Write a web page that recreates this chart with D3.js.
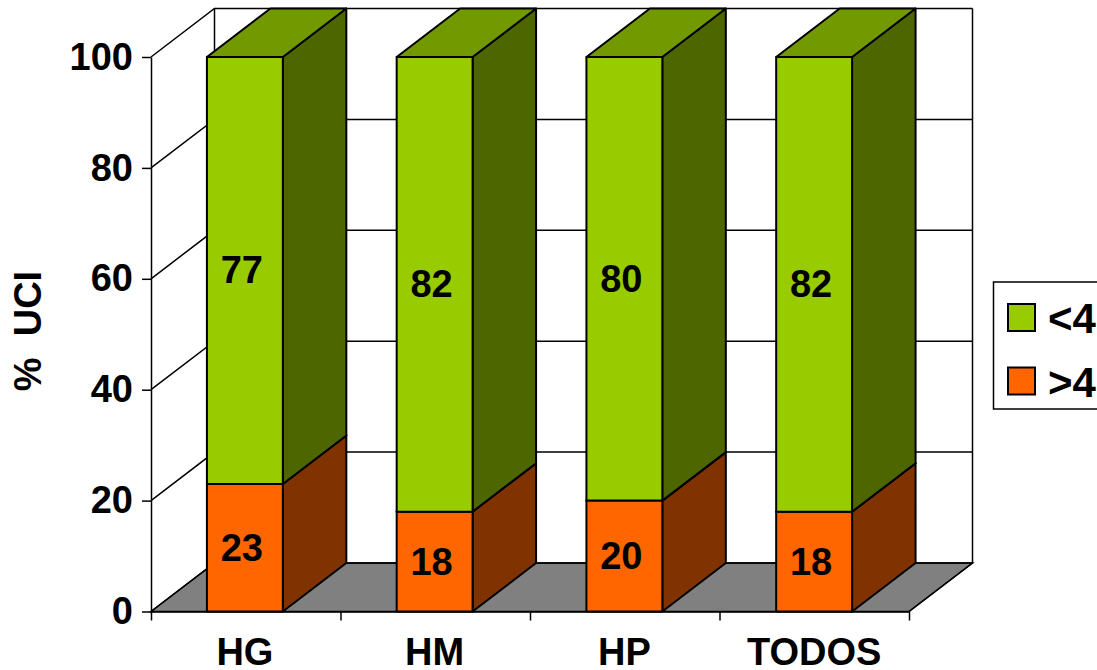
<!DOCTYPE html>
<html>
<head>
<meta charset="utf-8">
<script src="https://d3js.org/d3.v7.min.js"></script>
<style>
  html, body { margin: 0; padding: 0; background: #fff; overflow: hidden; }
  svg { display: block; }
  text { font-family: "Liberation Sans", Arial, sans-serif; font-weight: bold; fill: #000; }
</style>
</head>
<body>
<svg></svg>
<script>
const categories = ["HG", "HM", "HP", "TODOS"];
const lowerValues = [23, 18, 20, 18];   // >4
const upperValues = [77, 82, 80, 82];   // <4
const legendLabels = ["<4", ">4"];
const yTicks = [0, 20, 40, 60, 80, 100];

const width = 1097;
const height = 670;
const plotLeft = 151, plotRight = 909, plotBottom = 611.5, plotTop = 57;
const depthX = 63.5, depthY = -48.5; // 3D offset of the back wall
const fontSize = 38;

const svg = d3.select("svg").attr("width", width).attr("height", height);

const x = d3.scaleBand().domain(categories).range([plotLeft - 1, plotRight]).paddingInner(0.6).paddingOuter(0.3);
const y = d3.scaleLinear().domain([0, 100]).range([plotBottom, plotTop]);
const xEdge = d3.scaleLinear().domain([0, 4]).range([plotLeft, plotRight]);

const line = d3.line();
const stroke = "#000";

// back wall and floor
const wall = svg.append("g").attr("fill", "none").attr("stroke", stroke).attr("stroke-width", 1.5);
wall.append("path").attr("fill", "#808080")
  .attr("d", line([[plotLeft, plotBottom], [plotRight, plotBottom], [plotRight + depthX, plotBottom + depthY], [plotLeft + depthX, plotBottom + depthY]]) + "Z");
wall.selectAll(".grid").data(yTicks).join("path").attr("class", "grid")
  .attr("d", d => line([[plotLeft, y(d)], [plotLeft + depthX, y(d) + depthY], [plotRight + depthX, y(d) + depthY]]));
wall.append("path")
  .attr("d", line([[plotLeft + depthX, y(100) + depthY], [plotLeft + depthX, y(0) + depthY]]));
wall.append("path")
  .attr("d", line([[plotRight + depthX, y(100) + depthY], [plotRight + depthX, y(0) + depthY], [plotRight, y(0)]]));

// axes
svg.append("g").attr("transform", `translate(${plotLeft},0)`)
  .call(d3.axisLeft(y).tickValues(yTicks).tickSize(9).tickPadding(9).tickSizeOuter(0));
svg.append("g").attr("transform", `translate(0,${plotBottom})`)
  .call(d3.axisBottom(xEdge).ticks(4).tickSize(9).tickSizeOuter(0).tickFormat(""));
svg.append("g").attr("transform", `translate(0,${plotBottom})`)
  .call(d3.axisBottom(x).tickSize(0).tickPadding(26.5))
  .call(g => g.select(".domain").remove());
svg.selectAll(".domain, .tick line").attr("stroke", stroke).attr("stroke-width", 1.5);
svg.selectAll(".tick text").attr("font-size", fontSize).attr("font-family", null);

// stacked 3D bars
const series = [
  { values: lowerValues, base: () => 0, front: "#FF6600", side: "#803300", cap: "#BF4C00" },
  { values: upperValues, base: (i) => lowerValues[i], front: "#99CC00", side: "#4D6600", cap: "#739900" }
];

const bars = svg.append("g").attr("stroke", stroke).attr("stroke-width", 2).attr("stroke-linejoin", "round");
series.forEach(s => {
  s.values.forEach((v, i) => {
    const x0 = x(categories[i]);
    const x1 = x0 + x.bandwidth();
    const y0 = y(s.base(i));
    const y1 = y(s.base(i) + v);
    bars.append("path").attr("fill", s.side)
      .attr("d", line([[x1, y0], [x1 + depthX, y0 + depthY], [x1 + depthX, y1 + depthY], [x1, y1]]) + "Z");
    bars.append("path").attr("fill", s.cap)
      .attr("d", line([[x0, y1], [x1, y1], [x1 + depthX, y1 + depthY], [x0 + depthX, y1 + depthY]]) + "Z");
    bars.append("path").attr("fill", s.front)
      .attr("d", line([[x0, y0], [x1, y0], [x1, y1], [x0, y1]]) + "Z");
  });
});

// value labels
series.forEach(s => {
  svg.append("g").selectAll("text").data(s.values).join("text")
    .attr("x", (d, i) => x(categories[i]) + x.bandwidth() / 2 - 3)
    .attr("y", (d, i) => y(s.base(i) + d / 2))
    .attr("dy", "0.34em")
    .attr("text-anchor", "middle")
    .attr("font-size", fontSize)
    .text(d => d);
});

// y title
svg.append("text")
  .attr("transform", "translate(40.5,331) rotate(-90)")
  .attr("text-anchor", "middle")
  .attr("font-size", fontSize)
  .style("white-space", "pre")
  .text("%  UCI");

// legend, runs off the right edge like the original
const legend = svg.append("g");
legend.append("rect").attr("x", 993.5).attr("y", 282).attr("width", 130).attr("height", 127)
  .attr("fill", "#fff").attr("stroke", stroke).attr("stroke-width", 1.5);
[series[1], series[0]].forEach((s, i) => {
  legend.append("rect").attr("x", 1008).attr("y", 304 + i * 63.5).attr("width", 27).attr("height", 27)
    .attr("fill", s.front).attr("stroke", stroke).attr("stroke-width", 2);
  legend.append("text").attr("x", 1048).attr("y", 304 + i * 63.5 + 13.5).attr("dy", "0.38em")
    .attr("font-size", 42).text(legendLabels[i]);
});
</script>
</body>
</html>
